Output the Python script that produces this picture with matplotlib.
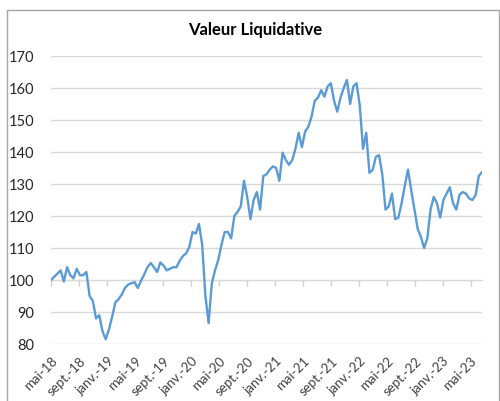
import matplotlib
matplotlib.use("Agg")
import matplotlib.pyplot as plt
import pandas as pd
from matplotlib.patches import Rectangle

# valeurs liquidatives relevees toutes les deux semaines (base 100 en mai 2018)
valeurs = [
    100, 101, 102, 103, 99.5, 104, 101.5, 100.5, 103.5, 101.5,
    101.5, 102.5, 95, 93.5, 88, 89, 84, 81.5, 84.5, 88.5,
    93, 94, 95.5, 97.5, 98.6, 99, 99.3, 97.5, 99.8, 101.8,
    104, 105.3, 104, 102.5, 105.5, 104.5, 103, 103.5, 104, 104,
    106, 107.5, 108.3, 110.3, 115, 114.5, 117.5, 111, 95, 86.5,
    99, 103, 106.3, 111, 115, 115, 113, 120, 121.3, 123,
    131, 126, 119, 125, 127.5, 122, 132.5, 133, 134.5, 135.5,
    135, 131, 139.8, 137.5, 136, 137.5, 141, 146, 141.5, 146.4,
    147.9, 151, 156, 157, 159.3, 157.3, 160.5, 161.5, 156, 152.6,
    157, 160, 162.5, 155, 160.5, 161.5, 154.5, 141, 146, 133.5,
    134.4, 138.5, 139, 133, 122, 123, 127, 119, 119.5, 124,
    129.5, 134.5, 128, 122, 116, 113.5, 110, 113, 122, 126,
    124, 119.5, 125, 127, 129, 124, 122, 126.6, 127.5, 127,
    125.5, 125, 126.5, 132.5, 133.7,
]
dates = pd.date_range("2018-05-01", periods=len(valeurs), freq="14D")

tick_dates = pd.date_range("2018-05-01", "2023-05-01", freq="4MS")
tick_labels = ["mai-18", "sept.-18", "janv.-19", "mai-19", "sept.-19", "janv.-20",
               "mai-20", "sept.-20", "janv.-21", "mai-21", "sept.-21", "janv.-22",
               "mai-22", "sept.-22", "janv.-23", "mai-23"]
y_ticks = [80, 90, 100, 110, 120, 130, 140, 150, 160, 170]

plt.rcParams["font.family"] = ["Lato", "DejaVu Sans"]

fig = plt.figure(figsize=(5, 4.01), dpi=100)
fig.patches.append(Rectangle((7 / 500, -0.05), 492 / 500, 1.05 - 10 / 401,
                             transform=fig.transFigure, fill=False,
                             edgecolor="#a6a6a6", linewidth=1))

ax = fig.add_axes([51 / 500, 1 - 344 / 401, 431 / 500, 288 / 401])
ax.plot(dates, valeurs, color="#5B9BD5", linewidth=1.7, zorder=3)

ax.set_ylim(80, 170)
ax.set_yticks(y_ticks)
ax.set_xlim(dates[0], dates[-1])
ax.set_xticks(tick_dates)
ax.set_xticklabels(tick_labels, rotation=45, ha="right", rotation_mode="anchor",
                   fontsize=9.5, color="#404040")
ax.tick_params(axis="x", length=0, pad=8)
ax.tick_params(axis="y", length=0, pad=12, labelsize=10.5, labelcolor="#262626")
ax.grid(axis="y", color="#d9d9d9", linewidth=1)
ax.set_axisbelow(True)
for s in ax.spines.values():
    s.set_visible(False)

# axe horizontal qui coupe a 100, avec ses petites graduations
sec = ax.secondary_xaxis((100 - 80) / (170 - 80))
sec.set_xticks(tick_dates)
sec.set_xticklabels([])
sec.tick_params(axis="x", direction="out", length=4, color="#d0d0d0", width=1)
sec.spines["bottom"].set_color("#d9d9d9")
for k in ["top", "left", "right"]:
    sec.spines[k].set_visible(False)

fig.text(0.51, 1 - 30 / 401, "Valeur Liquidative", ha="center", va="center",
         fontsize=12, fontweight="bold", color="#000000")

fig.savefig("out.png", dpi=100)
